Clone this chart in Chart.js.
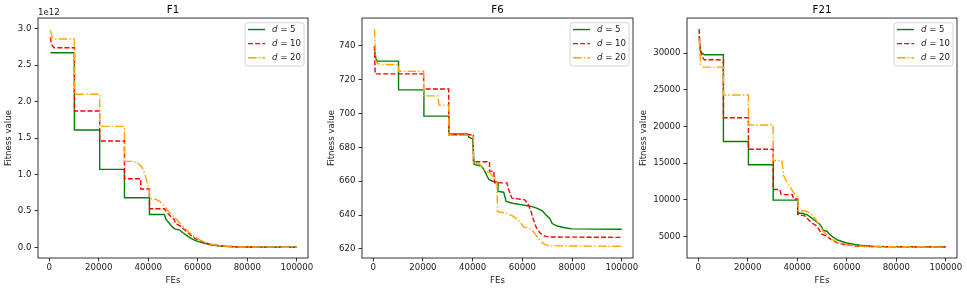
<!DOCTYPE html>
<html><head><meta charset="utf-8">
<script src="https://cdn.jsdelivr.net/npm/chart.js@4"></script>
<style>
html,body{margin:0;padding:0;background:#fff;width:967px;height:291px;overflow:hidden}
canvas{position:absolute;left:0;top:0}
</style></head><body>
<canvas id="c1" width="967" height="291"></canvas>
<canvas id="c2" width="967" height="291"></canvas>
<canvas id="c3" width="967" height="291"></canvas>
<script>
// ---------- data ----------
const titles = ['F1', 'F6', 'F21'];
const legendValues = ['5', '10', '20'];
const xTicks = [0, 20000, 40000, 60000, 80000, 100000];
const f1Ticks = [0, 0.5e12, 1.0e12, 1.5e12, 2.0e12, 2.5e12, 3.0e12];
const f6Ticks = [620, 640, 660, 680, 700, 720, 740];
const f21Ticks = [5000, 10000, 15000, 20000, 25000, 30000];

const F1_d5 = [[500,2.67e12],[10200,2.67e12],[10200,1.61e12],[20400,1.61e12],[20400,1.07e12],[30400,1.07e12],[30400,0.68e12],[40500,0.68e12],[40500,0.45e12],[46500,0.45e12],[47200,0.38e12],[48000,0.35e12],[49000,0.31e12],[50000,0.27e12],[51000,0.25e12],[52500,0.24e12],[54000,0.20e12],[56000,0.15e12],[58000,0.11e12],[60000,0.08e12],[62000,0.06e12],[65000,0.035e12],[68000,0.02e12],[72000,0.01e12],[78000,0.005e12],[85000,0.002e12],[100000,0.001e12]];
const F1_d10 = [[500,2.88e12],[1000,2.78e12],[2000,2.74e12],[10200,2.74e12],[10200,1.87e12],[20400,1.87e12],[20400,1.46e12],[30400,1.46e12],[30400,0.94e12],[37000,0.94e12],[37000,0.80e12],[40500,0.80e12],[40500,0.53e12],[46500,0.53e12],[47500,0.48e12],[49000,0.43e12],[50500,0.38e12],[51000,0.33e12],[53000,0.29e12],[55000,0.23e12],[57000,0.17e12],[59000,0.12e12],[61000,0.09e12],[63000,0.06e12],[66000,0.035e12],[70000,0.018e12],[75000,0.008e12],[82000,0.003e12],[100000,0.001e12]];
const F1_d20 = [[500,2.98e12],[1200,2.88e12],[2500,2.86e12],[10200,2.86e12],[10200,2.10e12],[20400,2.10e12],[20400,1.66e12],[30400,1.66e12],[30400,1.18e12],[34000,1.18e12],[36000,1.15e12],[37500,1.10e12],[38500,1.02e12],[39500,0.90e12],[40300,0.80e12],[40500,0.67e12],[43000,0.66e12],[45000,0.62e12],[46500,0.57e12],[48000,0.50e12],[50000,0.43e12],[52000,0.36e12],[54000,0.29e12],[56000,0.22e12],[58000,0.16e12],[60000,0.115e12],[62000,0.08e12],[65000,0.045e12],[68000,0.025e12],[72000,0.012e12],[78000,0.005e12],[86000,0.002e12],[100000,0.001e12]];

const F6_d5 = [[500,740],[800,734],[1500,731],[10200,731],[10200,714],[20400,714],[20400,698.5],[30400,698.5],[30400,688],[38000,688],[38500,686],[40000,685],[40600,670],[43500,669],[44500,667],[45500,664],[46500,661],[48000,660],[50000,659.5],[50200,654],[52500,653.5],[53500,648],[56000,647],[60000,646],[62000,645.5],[64000,645],[66000,644],[68000,642.5],[69500,640],[71000,638],[72000,635],[74000,633.5],[77000,632.5],[80000,631.8],[100000,631.6]];
const F6_d10 = [[500,740],[800,723.5],[20300,723.5],[20300,714.5],[30400,714.5],[30400,687.5],[40300,687.5],[40300,671.5],[46800,671.5],[46800,666],[48500,666],[48800,659],[53800,659],[54500,655],[55800,650],[61000,649],[62500,646],[63500,642],[64500,637],[65500,633],[67000,629.5],[69000,627.5],[72000,627],[100000,626.8]];
const F6_d20 = [[500,750],[1000,731],[2000,729.5],[3000,729],[10200,729],[10200,725],[20300,725],[20300,710.5],[26000,710.5],[26500,705],[30400,705],[30400,687.2],[40300,687.2],[40300,671],[42500,670.5],[44000,668],[45500,665.5],[47000,665],[48500,662],[49800,660],[50000,642],[52000,641.5],[54000,641],[56000,639.5],[58000,637.5],[59500,635],[60500,633],[63000,632],[64500,630],[66000,627],[67500,624.5],[69000,622.5],[71000,621.8],[100000,621.5]];

const F21_d5 = [[400,32300],[800,30400],[1500,30000],[2500,29800],[10200,29800],[10200,17950],[20300,17950],[20300,14770],[30300,14770],[30300,9950],[40200,9950],[40200,8150],[42000,8150],[44000,7950],[45500,7600],[47000,7200],[48000,6950],[49000,6700],[50000,6200],[50500,5800],[52000,5700],[53000,5300],[54500,4900],[56000,4550],[58000,4300],[60000,4100],[63000,3900],[66000,3750],[70000,3650],[76000,3600],[85000,3580],[100000,3570]];
const F21_d10 = [[400,33300],[800,30500],[1500,29600],[2500,29100],[10200,29100],[10200,21200],[20300,21200],[20300,16900],[30300,16900],[30300,11400],[33000,11400],[33500,10700],[38000,10700],[38500,10100],[40200,10100],[40200,8000],[43000,7800],[44500,7300],[46000,6800],[47500,6500],[48500,6100],[50000,5300],[52000,5000],[54000,4500],[56000,4150],[59000,3900],[63000,3700],[68000,3620],[75000,3580],[100000,3570]];
const F21_d20 = [[400,32000],[1000,28500],[2000,28100],[10200,28100],[10200,24300],[20300,24300],[20300,20200],[30300,20200],[30300,15350],[33800,15350],[34500,13300],[35500,12600],[37000,11800],[38500,11000],[39500,10500],[40200,10300],[40400,8500],[43000,8500],[44500,8300],[46000,7900],[47500,7300],[49000,6500],[50500,5700],[52000,5200],[54000,4600],[57000,4100],[61000,3800],[66000,3650],[72000,3590],[100000,3570]];

// ---------- styling ----------
const FONT = 'DejaVu Sans';
const FS = 8.6;
const TXT = '#1a1a1a';
const styles = [
  {color: '#008000', dash: []},
  {color: '#ff0000', dash: [5.0, 2.2]},
  {color: '#ffa500', dash: [8.6, 2.2, 1.4, 2.2]}
];
const LW = 1.4;

const panels = [
  {id: 'c1', title: titles[0], series: [F1_d5, F1_d10, F1_d20], yTicks: f1Ticks,
   ymin: -0.147e12, ymax: 3.147e12, fmt: v => (v / 1e12).toFixed(1), offsetText: '1e12',
   area: {l: 38, r: 308}, yw: 36, ytPad: 1.8},
  {id: 'c2', title: titles[1], series: [F6_d5, F6_d10, F6_d20], yTicks: f6Ticks,
   ymin: 614.6, ymax: 756.5, fmt: v => String(v), offsetText: null,
   area: {l: 362, r: 633}, yw: 36, ytPad: 0.5},
  {id: 'c3', title: titles[2], series: [F21_d5, F21_d10, F21_d20], yTicks: f21Ticks,
   ymin: 2050, ymax: 34800, fmt: v => String(v), offsetText: null,
   area: {l: 687, r: 957}, yw: 48, ytPad: 0}
];

const extrasPlugin = {
  id: 'extras',
  afterDraw(chart, args, opts) {
    const ctx = chart.ctx;
    const ca = chart.chartArea;
    ctx.save();
    // axes frame
    ctx.strokeStyle = '#000';
    ctx.lineWidth = 0.8;
    ctx.strokeRect(ca.left, ca.top, ca.right - ca.left, ca.bottom - ca.top);
    // offset text
    if (opts.offsetText) {
      ctx.fillStyle = TXT;
      ctx.font = FS + 'px "' + FONT + '"';
      ctx.textAlign = 'left';
      ctx.textBaseline = 'middle';
      ctx.fillText(opts.offsetText, ca.left, 12.7);
    }
    // legend
    const bw = 59, bh = 43.3;
    const bx = ca.right - 4 - bw, by = ca.top + 4.7;
    ctx.beginPath();
    if (ctx.roundRect) ctx.roundRect(bx, by, bw, bh, 2.5); else ctx.rect(bx, by, bw, bh);
    ctx.fillStyle = 'rgba(255,255,255,0.8)';
    ctx.fill();
    ctx.strokeStyle = '#cccccc';
    ctx.lineWidth = 0.8;
    ctx.stroke();
    chart.data.datasets.forEach((ds, i) => {
      const y = by + 6.8 + i * 14.1;
      ctx.beginPath();
      ctx.setLineDash(ds.borderDash || []);
      ctx.strokeStyle = ds.borderColor;
      ctx.lineWidth = ds.borderWidth;
      ctx.moveTo(bx + 3, y);
      ctx.lineTo(bx + 20, y);
      ctx.stroke();
      ctx.setLineDash([]);
      ctx.fillStyle = TXT;
      ctx.textBaseline = 'middle';
      ctx.textAlign = 'left';
      ctx.font = 'italic ' + FS + 'px "' + FONT + '"';
      const tx = bx + 27;
      ctx.fillText('d', tx, y);
      const dw = ctx.measureText('d').width;
      ctx.font = FS + 'px "' + FONT + '"';
      ctx.fillText(' = ' + legendValues[i], tx + dw, y);
    });
    ctx.restore();
  }
};

panels.forEach(p => {
  const datasets = p.series.map((s, i) => ({
    label: 'd = ' + legendValues[i],
    data: s.map(pt => ({x: pt[0], y: pt[1]})),
    borderColor: styles[i].color,
    borderDash: styles[i].dash,
    borderWidth: LW,
    pointRadius: 0,
    fill: false,
    tension: 0,
    order: 2 - i
  }));
  new Chart(document.getElementById(p.id), {
    type: 'line',
    data: {datasets},
    plugins: [extrasPlugin],
    options: {
      responsive: false,
      animation: false,
      events: [],
      layout: {padding: {left: p.area.l - p.yw, right: 967 - p.area.r, top: 0, bottom: 0}},
      plugins: {
        legend: {display: false},
        tooltip: {enabled: false},
        title: {display: true, text: p.title, fullSize: false, color: '#000',
                font: {family: FONT, size: 10.2, weight: 'normal'}, padding: {top: 3.8, bottom: 2}},
        extras: {offsetText: p.offsetText}
      },
      scales: {
        x: {
          type: 'linear', bounds: 'data', min: -4500, max: 104500,
          afterBuildTicks: s => { s.ticks = xTicks.map(v => ({value: v})); },
          afterFit: s => { s.height = 33; },
          ticks: {callback: v => String(v), color: TXT, font: {family: FONT, size: FS}, padding: 1, maxRotation: 0, autoSkip: false},
          grid: {drawOnChartArea: false, drawTicks: true, tickLength: 3.5, color: '#000', lineWidth: 0.8},
          border: {display: false},
          title: {display: true, text: 'FEs', color: TXT, font: {family: FONT, size: FS}, padding: {top: 0, bottom: 4.8}}
        },
        y: {
          type: 'linear', bounds: 'data', min: p.ymin, max: p.ymax,
          afterBuildTicks: s => { s.ticks = p.yTicks.map(v => ({value: v})); },
          afterFit: s => { s.width = p.yw; },
          ticks: {callback: v => p.fmt(v), color: TXT, font: {family: FONT, size: FS}, padding: 3, autoSkip: false},
          grid: {drawOnChartArea: false, drawTicks: true, tickLength: 3.5, color: '#000', lineWidth: 0.8},
          border: {display: false},
          title: {display: true, text: 'Fitness value', color: TXT, font: {family: FONT, size: FS}, padding: {top: p.ytPad, bottom: 0}}
        }
      }
    }
  });
});
</script>
</body></html>
